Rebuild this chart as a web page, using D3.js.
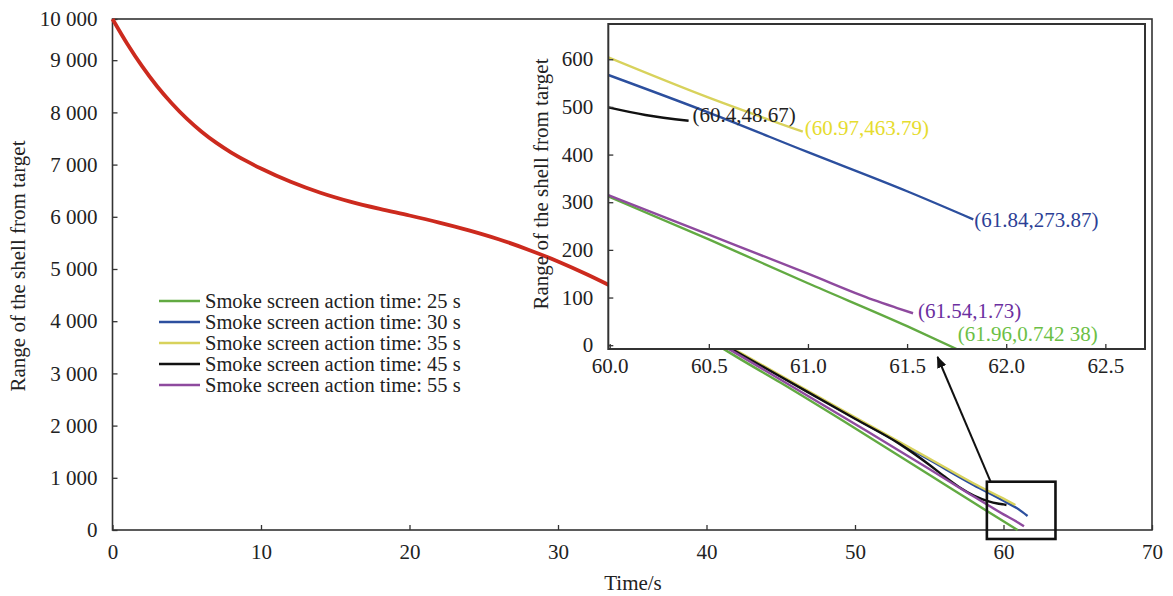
<!DOCTYPE html>
<html>
<head>
<meta charset="utf-8">
<script src="https://cdn.jsdelivr.net/npm/d3@7"></script>
<style>
  body { margin: 0; background: #fff; }
  svg { display: block; }
  svg text { font-family: "Liberation Serif", "Times New Roman", serif; }
</style>
</head>
<body>
<svg id="chart" width="1173" height="596"></svg>
<script>
// main curve before the smoke screens split (time s, range m)
const redTimes = [0, 1, 2, 3, 4, 5, 6, 7, 8, 9, 10, 12, 14, 16, 18, 20, 22, 24, 26, 28, 30, 32, 34, 36, 38, 40];
const redRange = [9789, 9310, 8880, 8500, 8170, 7880, 7630, 7415, 7230, 7070, 6925, 6670, 6460, 6290, 6150, 6025, 5890, 5740, 5570, 5370, 5145, 4890, 4610, 4310, 4000, 3680];

const seriesNames = ["Smoke screen action time: 25 s", "Smoke screen action time: 30 s", "Smoke screen action time: 35 s", "Smoke screen action time: 45 s", "Smoke screen action time: 55 s"];
const seriesColors = ["#62aa42", "#2c4f9e", "#d8d25c", "#111111", "#8e4a9e"];
const labelColors = ["#6cbf45", "#2d3f96", "#e6dc2e", "#222222", "#6b2fa0"];

// main plot, after t = 40 s
const mainTimes = [
    [40, 41.2, 45, 50, 55, 58, 60.95],
    [40, 45, 50, 55, 58, 60, 61, 61.62],
    [40, 45, 50, 55, 58, 60, 60.8],
    [40, 45, 50, 53, 55, 56, 57, 58, 59, 59.6, 60, 60.2],
    [40, 45, 50, 55, 58, 60, 61, 61.38]
];
const mainRange = [
    [3680, 3460, 2820, 1950, 1060, 520, 0],
    [3740, 2940, 2140, 1345, 860, 560, 400, 268],
    [3760, 2960, 2160, 1370, 890, 600, 480],
    [3740, 2935, 2130, 1650, 1250, 1030, 825, 660, 550, 508, 490, 479],
    [3720, 2880, 2030, 1170, 640, 300, 140, 70]
];

// zoomed view, 60 s onwards
const insetTimes = [
    [59.993, 60.5, 61, 61.5, 61.75],
    [59.993, 60.5, 61, 61.5, 61.834],
    [59.993, 60.49, 60.974],
    [59.993, 60.18, 60.398],
    [59.993, 60.5, 61, 61.33, 61.45, 61.53]
];
const insetRange = [
    [312, 222, 130, 40, -8],
    [567, 488, 405, 323, 264],
    [604, 521, 448],
    [499, 483, 471],
    [315, 232, 150, 95, 78, 67]
];
const insetLabels = ["(61.96,0.742 38)", "(61.84,273.87)", "(60.97,463.79)", "(60.4,48.67)", "(61.54,1.73)"];
const labelOffsets = [[1, -15], [1, 0], [2, -4], [4, -6], [5, -3]];

const xTicks = [0, 10, 20, 30, 40, 50, 60, 70];
const yTicks = [0, 1000, 2000, 3000, 4000, 5000, 6000, 7000, 8000, 9000];
const insetXTicks = [60, 60.5, 61, 61.5, 62, 62.5];
const insetYTicks = [0, 100, 200, 300, 400, 500, 600];

// zoom box and arrow in main-plot data units
const boxTime = [58.88, 63.5];
const boxRange = [-172, 925];
const arrowFrom = [59.13, 925];
const arrowTo = [55.56, 3314];

const svg = d3.select("#chart");
const axisColor = "#333";
const fontSize = "21px";
const serif = "'Liberation Serif', 'Times New Roman', serif";

const x = d3.scaleLinear().domain([0, 70]).range([112.5, 1152]);
const y = d3.scaleLinear().domain([0, 9789]).range([530, 19]);

const spaceFmt = d3.format(",");
const thousands = (d) => spaceFmt(Math.round(d / 1000) * 1000).replace(/,/g, " ");

const line = (sx, sy) => d3.line()
    .x((d) => sx(d[0]))
    .y((d) => sy(d[1]))
    .curve(d3.curveMonotoneX);

function styleAxis(g) {
    g.attr("font-family", serif).attr("font-size", null);
    g.select(".domain").remove();
    g.selectAll("line").attr("stroke", axisColor).attr("stroke-width", 1.3);
    g.selectAll("text").attr("fill", "#222")
        .style("font-family", serif).style("font-size", fontSize);
}

// main frame
svg.append("rect")
    .attr("x", x(0)).attr("y", y.range()[1])
    .attr("width", x(70) - x(0)).attr("height", y(0) - y.range()[1])
    .attr("fill", "none").attr("stroke", axisColor).attr("stroke-width", 1.6);

svg.append("g")
    .attr("transform", `translate(0,${y(0)})`)
    .call(d3.axisBottom(x).tickValues(xTicks).tickSizeInner(-5).tickSizeOuter(0).tickPadding(14))
    .call(styleAxis);

svg.append("g")
    .attr("transform", `translate(${x(0)},0)`)
    .call(d3.axisLeft(y).tickValues(yTicks.concat([y.domain()[1]])).tickFormat(thousands)
        .tickSizeInner(-5).tickSizeOuter(0).tickPadding(15))
    .call(styleAxis);

svg.append("text")
    .attr("x", 633).attr("y", 583).attr("dy", "0.35em")
    .attr("text-anchor", "middle").style("font-size", fontSize).attr("fill", "#222")
    .text("Time/s");

svg.append("text")
    .attr("transform", "translate(18,266) rotate(-90)")
    .attr("dy", "0.35em")
    .attr("text-anchor", "middle").style("font-size", fontSize).attr("fill", "#222")
    .text("Range of the shell from target");

// main curves
svg.append("path")
    .datum(redTimes.map((t, i) => [t, redRange[i]]))
    .attr("d", line(x, y))
    .attr("fill", "none").attr("stroke", "#cc2a1e").attr("stroke-width", 3.8);

mainTimes.forEach((times, k) => {
    svg.append("path")
        .datum(times.map((t, i) => [t, mainRange[k][i]]))
        .attr("d", line(x, y))
        .attr("fill", "none").attr("stroke", seriesColors[k]).attr("stroke-width", 2.4);
});

// zoom box and arrow
svg.append("defs").append("marker")
    .attr("id", "head")
    .attr("viewBox", "0 0 10 10")
    .attr("refX", 9).attr("refY", 5)
    .attr("markerWidth", 6).attr("markerHeight", 6)
    .attr("markerUnits", "strokeWidth")
    .attr("orient", "auto")
    .append("path").attr("d", "M0,1 L10,5 L0,9 Z").attr("fill", "#111");

svg.append("rect")
    .attr("x", x(boxTime[0])).attr("y", y(boxRange[1]))
    .attr("width", x(boxTime[1]) - x(boxTime[0]))
    .attr("height", y(boxRange[0]) - y(boxRange[1]))
    .attr("fill", "none").attr("stroke", "#111").attr("stroke-width", 2.6);

svg.append("line")
    .attr("x1", x(arrowFrom[0])).attr("y1", y(arrowFrom[1]))
    .attr("x2", x(arrowTo[0])).attr("y2", y(arrowTo[1]))
    .attr("stroke", "#111").attr("stroke-width", 2)
    .attr("marker-end", "url(#head)");

// legend
const legend = svg.append("g").attr("transform", "translate(159,301)");
seriesNames.forEach((name, i) => {
    const row = legend.append("g").attr("transform", `translate(0,${i * 21})`);
    row.append("line").attr("x1", 0).attr("x2", 41)
        .attr("stroke", seriesColors[i]).attr("stroke-width", 2.6);
    row.append("text").attr("x", 46).attr("dy", "0.33em")
        .style("font-size", "20.5px").attr("fill", "#222").text(name);
});

// inset
const xi = d3.scaleLinear().domain([59.993, 62.7]).range([608.3, 1145]);
const yi = d3.scaleLinear().domain([-8, 674]).range([349, 24]);

const inset = svg.append("g");
inset.append("rect")
    .attr("x", xi.range()[0]).attr("y", yi.range()[1])
    .attr("width", xi.range()[1] - xi.range()[0])
    .attr("height", yi.range()[0] - yi.range()[1])
    .attr("fill", "#fff");

inset.append("clipPath").attr("id", "insetClip")
    .append("rect")
    .attr("x", xi.range()[0]).attr("y", yi.range()[1])
    .attr("width", xi.range()[1] - xi.range()[0])
    .attr("height", yi.range()[0] - yi.range()[1]);

insetTimes.forEach((times, k) => {
    inset.append("path")
        .datum(times.map((t, i) => [t, insetRange[k][i]]))
        .attr("clip-path", "url(#insetClip)")
        .attr("d", line(xi, yi))
        .attr("fill", "none").attr("stroke", seriesColors[k]).attr("stroke-width", 2.4);
});

insetTimes.forEach((times, k) => {
    const n = times.length - 1;
    inset.append("text")
        .attr("x", xi(times[n]) + labelOffsets[k][0])
        .attr("y", yi(insetRange[k][n]) + labelOffsets[k][1])
        .attr("dy", "0.35em")
        .style("font-size", fontSize).attr("fill", labelColors[k])
        .text(insetLabels[k]);
});

inset.append("rect")
    .attr("x", xi.range()[0]).attr("y", yi.range()[1])
    .attr("width", xi.range()[1] - xi.range()[0])
    .attr("height", yi.range()[0] - yi.range()[1])
    .attr("fill", "none").attr("stroke", axisColor).attr("stroke-width", 2);

inset.append("g")
    .attr("transform", `translate(0,${yi.range()[0]})`)
    .call(d3.axisBottom(xi).tickValues(insetXTicks).tickFormat(d3.format(".1f"))
        .tickSizeInner(-5).tickSizeOuter(0).tickPadding(9))
    .call(styleAxis);

inset.append("g")
    .attr("transform", `translate(${xi.range()[0]},0)`)
    .call(d3.axisLeft(yi).tickValues(insetYTicks)
        .tickSizeInner(-5).tickSizeOuter(0).tickPadding(15))
    .call(styleAxis);

inset.append("text")
    .attr("transform", "translate(541,184) rotate(-90)")
    .attr("dy", "0.35em")
    .attr("text-anchor", "middle").style("font-size", fontSize).attr("fill", "#222")
    .text("Range of the shell from target");
</script>
</body>
</html>
